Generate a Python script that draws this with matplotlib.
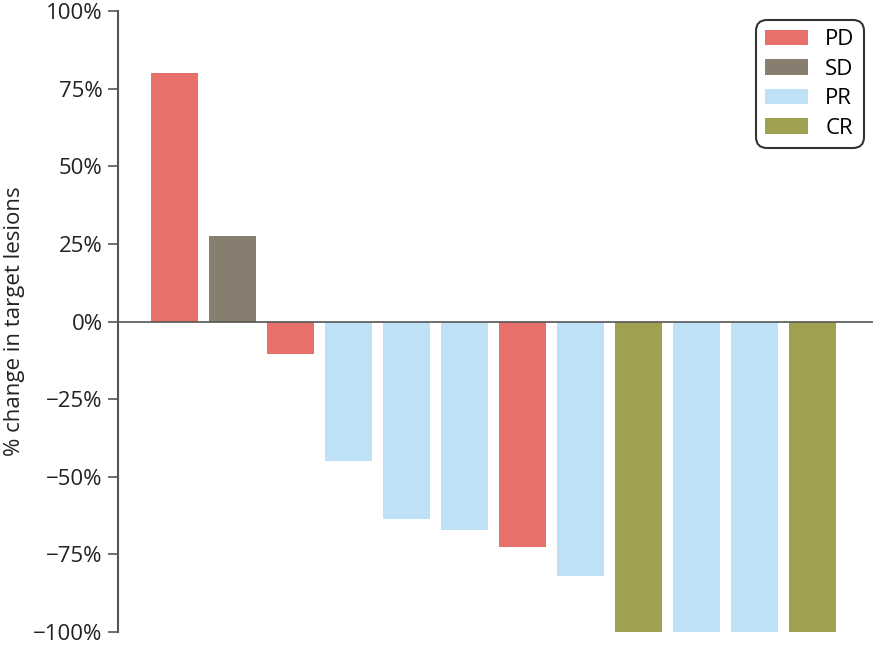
import matplotlib.pyplot as plt
import matplotlib
from matplotlib.patches import Patch
from matplotlib.ticker import FuncFormatter

matplotlib.rcParams['font.family'] = ['Open Sans', 'DejaVu Sans']

# percent change per patient, with response category
change = [80, 27.5, -10.5, -45, -63.5, -67, -72.5, -82, -100, -100, -100, -100]
response = ['PD', 'SD', 'PD', 'PR', 'PR', 'PR', 'PD', 'PR', 'CR', 'PR', 'PR', 'CR']
categories = ['PD', 'SD', 'PR', 'CR']
colors = {'PD': '#E8706A', 'SD': '#877E70', 'PR': '#BEE1F5', 'CR': '#9FA050'}
yticks = [-100, -75, -50, -25, 0, 25, 50, 75, 100]

fig = plt.figure(figsize=(8.73, 6.46), dpi=100)
ax = fig.add_axes([118/873, 1-632/646, 1-118/873, (632-11)/646])

x = list(range(len(change)))
ax.bar(x, change, width=0.81, color=[colors[r] for r in response], zorder=2)
ax.axhline(0, color='#555555', linewidth=1.2, zorder=3)

ax.set_xlim(-0.974, 12.04)
ax.set_ylim(-100, 100)
ax.set_yticks(yticks)
ax.yaxis.set_major_formatter(FuncFormatter(lambda v, p: ('\u2212' if v < 0 else '') + '%d%%' % abs(v)))
ax.tick_params(axis='y', labelsize=16, length=7, width=1.2, color='#555555', labelcolor='#222222', pad=4)
ax.set_xticks([])
for s in ['top', 'right', 'bottom']:
    ax.spines[s].set_visible(False)
ax.spines['left'].set_color('#555555')
ax.spines['left'].set_linewidth(1.5)
ax.set_ylabel('% change in target lesions', fontsize=16, color='#222222', labelpad=6)

handles = [Patch(facecolor=colors[c], label=c) for c in categories]
leg = ax.legend(handles=handles, loc='upper right', bbox_to_anchor=(864/873, 1-20/646),
                bbox_transform=fig.transFigure, borderaxespad=0, fontsize=16,
                handlelength=1.9, handleheight=0.7, labelspacing=0.38, handletextpad=0.8,
                fancybox=True, frameon=True, borderpad=0.42)
leg.get_frame().set_edgecolor('black')
leg.get_frame().set_linewidth(1.5)
leg.get_frame().set_boxstyle('round,pad=0,rounding_size=0.5')

fig.savefig('out.png', dpi=100)
